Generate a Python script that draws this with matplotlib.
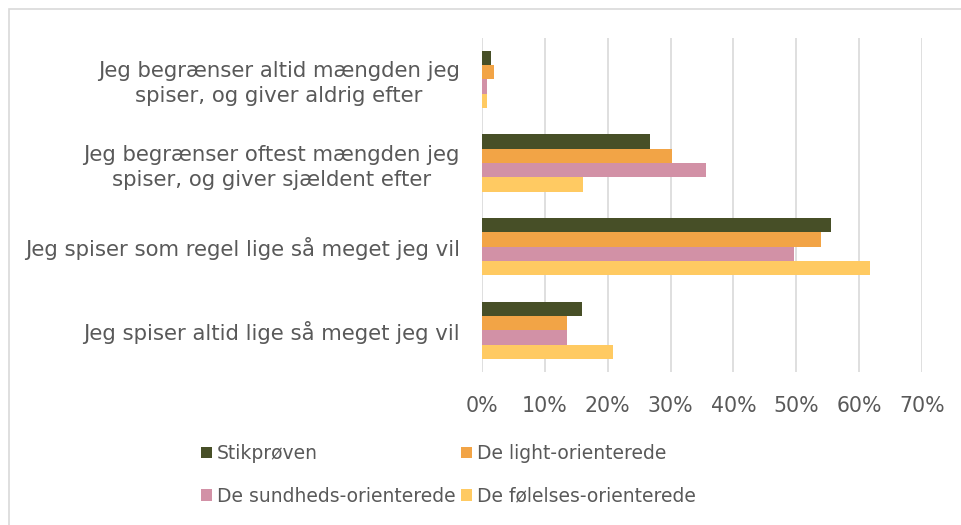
import numpy as np
import matplotlib
matplotlib.use('Agg')
import matplotlib.pyplot as plt
from matplotlib.patches import Rectangle
from matplotlib.ticker import FuncFormatter


DPI = 100

categories = [
    'Jeg begrænser altid mængden jeg\nspiser, og giver aldrig efter',
    'Jeg begrænser oftest mængden jeg\nspiser, og giver sjældent efter',
    'Jeg spiser som regel lige så meget jeg vil',
    'Jeg spiser altid lige så meget jeg vil',
]

series_names = [
    'Stikprøven',
    'De light-orienterede',
    'De sundheds-orienterede',
    'De følelses-orienterede',
]

stikproeven = [1.4, 26.8, 55.6, 15.9]
light = [1.9, 30.3, 54.0, 13.6]
sundheds = [0.85, 35.6, 49.7, 13.5]
foelelses = [0.85, 16.1, 61.8, 20.9]

colors = ['#474F27', '#F2A446', '#D291A6', '#FFCA62']
TEXT = '#595959'
GRID = '#D9D9D9'


def run():
    plt.rcParams['font.family'] = ['DejaVu Sans']
    fig = plt.figure(figsize=(9.62, 5.25), dpi=DPI)
    ax = fig.add_axes([0.501, 0.2914, 0.4574, 0.6368])

    values = [stikproeven, light, sundheds, foelelses]
    y = np.arange(len(categories))
    h = 0.171
    bars = []
    for j, (name, vals, col) in enumerate(zip(series_names, values, colors)):
        b = ax.barh(y + (j - 1.5) * h, np.array(vals) / 100.0, height=h,
                    color=col, label=name, zorder=3)
        bars.append(b)

    ax.set_xlim(0, 0.7)
    ax.set_ylim(len(categories) - 0.5, -0.5)
    ax.set_xticks(np.arange(0, 0.71, 0.1))
    ax.xaxis.set_major_formatter(FuncFormatter(lambda v, p: '{:.0f}%'.format(v * 100)))
    ax.set_yticks(y)
    ax.set_yticklabels(categories, ha='right', multialignment='center',
                       linespacing=1.3)

    ax.tick_params(axis='x', length=0, pad=17, labelsize=14.8, labelcolor=TEXT)
    ax.tick_params(axis='y', length=0, pad=16, labelsize=15.3, labelcolor=TEXT)
    ax.grid(True, axis='x', color=GRID, linewidth=1.2, zorder=0)
    ax.grid(False, axis='y')
    for s in ax.spines.values():
        s.set_visible(False)

    # legend is filled row by row in the reference
    order = [0, 2, 1, 3]
    fig.legend([bars[i] for i in order], [series_names[i] for i in order],
               loc='upper left', bbox_to_anchor=(0.2086, 0.154), ncol=2,
               frameon=False, fontsize=13.5, labelcolor=TEXT,
               handlelength=0.6, handleheight=0.6, handletextpad=0.25,
               columnspacing=0.3, labelspacing=1.25, borderpad=0,
               borderaxespad=0)

    # chart border (runs off the right and bottom edges)
    fig.patches.append(Rectangle((8.5 / 962, -0.1), 1.2, 1.1 - 9.0 / 525,
                                 transform=fig.transFigure, fill=False,
                                 edgecolor=GRID, linewidth=1.2))

    fig.savefig('out.png', dpi=DPI)


if __name__ == '__main__':
    run()
